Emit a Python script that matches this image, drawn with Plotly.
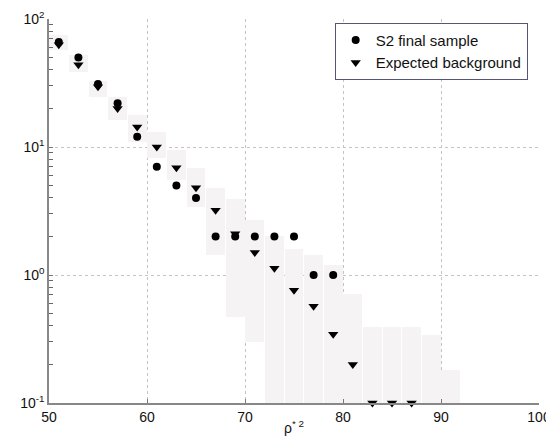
import plotly.graph_objects as go

# bin centres
x_sig = [51, 53, 55, 57, 59, 61, 63, 65, 67, 69, 71, 73, 75, 77, 79]
sig = [66, 50, 31, 22, 12, 7, 5, 4, 2, 2, 2, 2, 2, 1, 1]

x_bkg = [51, 53, 55, 57, 59, 61, 63, 65, 67, 69, 71, 73, 75, 77, 79, 81, 83, 85, 87]
bkg = [63, 44, 29.5, 20, 14.3, 10, 6.9, 4.8, 3.2, 2.1, 1.5, 1.13, 0.76, 0.57, 0.345, 0.2, 0.1, 0.1, 0.1]

x_band = [51, 53, 55, 57, 59, 61, 63, 65, 67, 69, 71, 73, 75, 77, 79, 81, 83, 85, 87, 89, 91]
band_hi = [75, 52, 33, 24.5, 17.8, 13.1, 9.5, 6.9, 4.8, 3.9, 2.7, 2.0, 1.6, 1.43, 1.2, 0.71, 0.39, 0.39, 0.39, 0.34, 0.18]
band_lo = [57, 38.5, 24.5, 16.2, 11, 8.2, 5.5, 3.4, 1.43, 0.47, 0.30, 0.01, 0.01, 0.01, 0.01, 0.01, 0.01, 0.01, 0.01, 0.01, 0.01]

x_ticks = [50, 60, 70, 80, 90, 100]
y_ticks = [0.1, 1, 10, 100]
y_ticktext = ["10<sup>-1</sup>", "10<sup>0</sup>", "10<sup>1</sup>", "10<sup>2</sup>"]
y_minor = [m * d for d in (0.1, 1, 10) for m in range(2, 10)]

fig = go.Figure()
fig.add_trace(go.Bar(
    x=x_band, y=[h - l for h, l in zip(band_hi, band_lo)], base=band_lo,
    width=1.9, marker=dict(color="#f5f3f3", line=dict(width=0)),
    showlegend=False, hoverinfo="skip"))
fig.add_trace(go.Scatter(
    x=x_sig, y=sig, mode="markers", name="S2 final sample",
    marker=dict(symbol="circle", size=8, color="black"), cliponaxis=False))
fig.add_trace(go.Scatter(
    x=x_bkg, y=bkg, mode="markers", name="Expected background",
    marker=dict(symbol="triangle-down", size=9, color="black"), cliponaxis=False))
# invisible trace carrying the minor-tick axis
fig.add_trace(go.Scatter(x=[60], y=[1], yaxis="y2", mode="markers",
                         marker=dict(opacity=0), showlegend=False, hoverinfo="skip"))

tfont = dict(size=14, family="Liberation Sans, Arial, sans-serif", color="#111")
fig.update_layout(
    width=546, height=443,
    margin=dict(l=49, r=7, t=19, b=40, autoexpand=False),
    paper_bgcolor="white", plot_bgcolor="white",
    font=dict(size=13, family="Liberation Sans, Arial, sans-serif", color="black"),
    bargap=0,
    legend=dict(x=0.583, y=0.99, xanchor="left", yanchor="top",
                bgcolor="white", bordercolor="#555577", borderwidth=1,
                font=dict(size=15, family="Liberation Sans, Arial, sans-serif", color="#111"),
                itemwidth=30, tracegroupgap=0),
    xaxis=dict(range=[50, 100], tickmode="array", tickvals=x_ticks,
               ticklabeloverflow="allow", automargin=False,
               ticks="inside", ticklen=4, tickcolor="#777",
               showline=True, linecolor="#888", linewidth=1.5,
               showgrid=True, gridcolor="#c4c4c4", griddash="dot", gridwidth=1,
               zeroline=False, tickfont=tfont,
               title=dict(text="ρ<sup>* 2</sup>", standoff=0, font=tfont)),
    yaxis=dict(type="log", range=[-1, 2], tickmode="array",
               tickvals=y_ticks, ticktext=y_ticktext, automargin=False,
               ticks="inside", ticklen=4, tickcolor="#777",
               showline=True, linecolor="#888", linewidth=1.5,
               showgrid=True, gridcolor="#c4c4c4", griddash="dot", gridwidth=1,
               zeroline=False, tickfont=tfont),
    yaxis2=dict(type="log", range=[-1, 2], overlaying="y", side="left", anchor="x",
                tickmode="array", tickvals=y_minor, showticklabels=False,
                automargin=False,
                ticks="inside", ticklen=4, tickwidth=1, tickcolor="#666",
                showgrid=False, showline=False, zeroline=False),
)
fig.write_html("out.html", config={"displayModeBar": False},
               post_script="document.body.style.margin='0';document.body.style.overflow='hidden';")
